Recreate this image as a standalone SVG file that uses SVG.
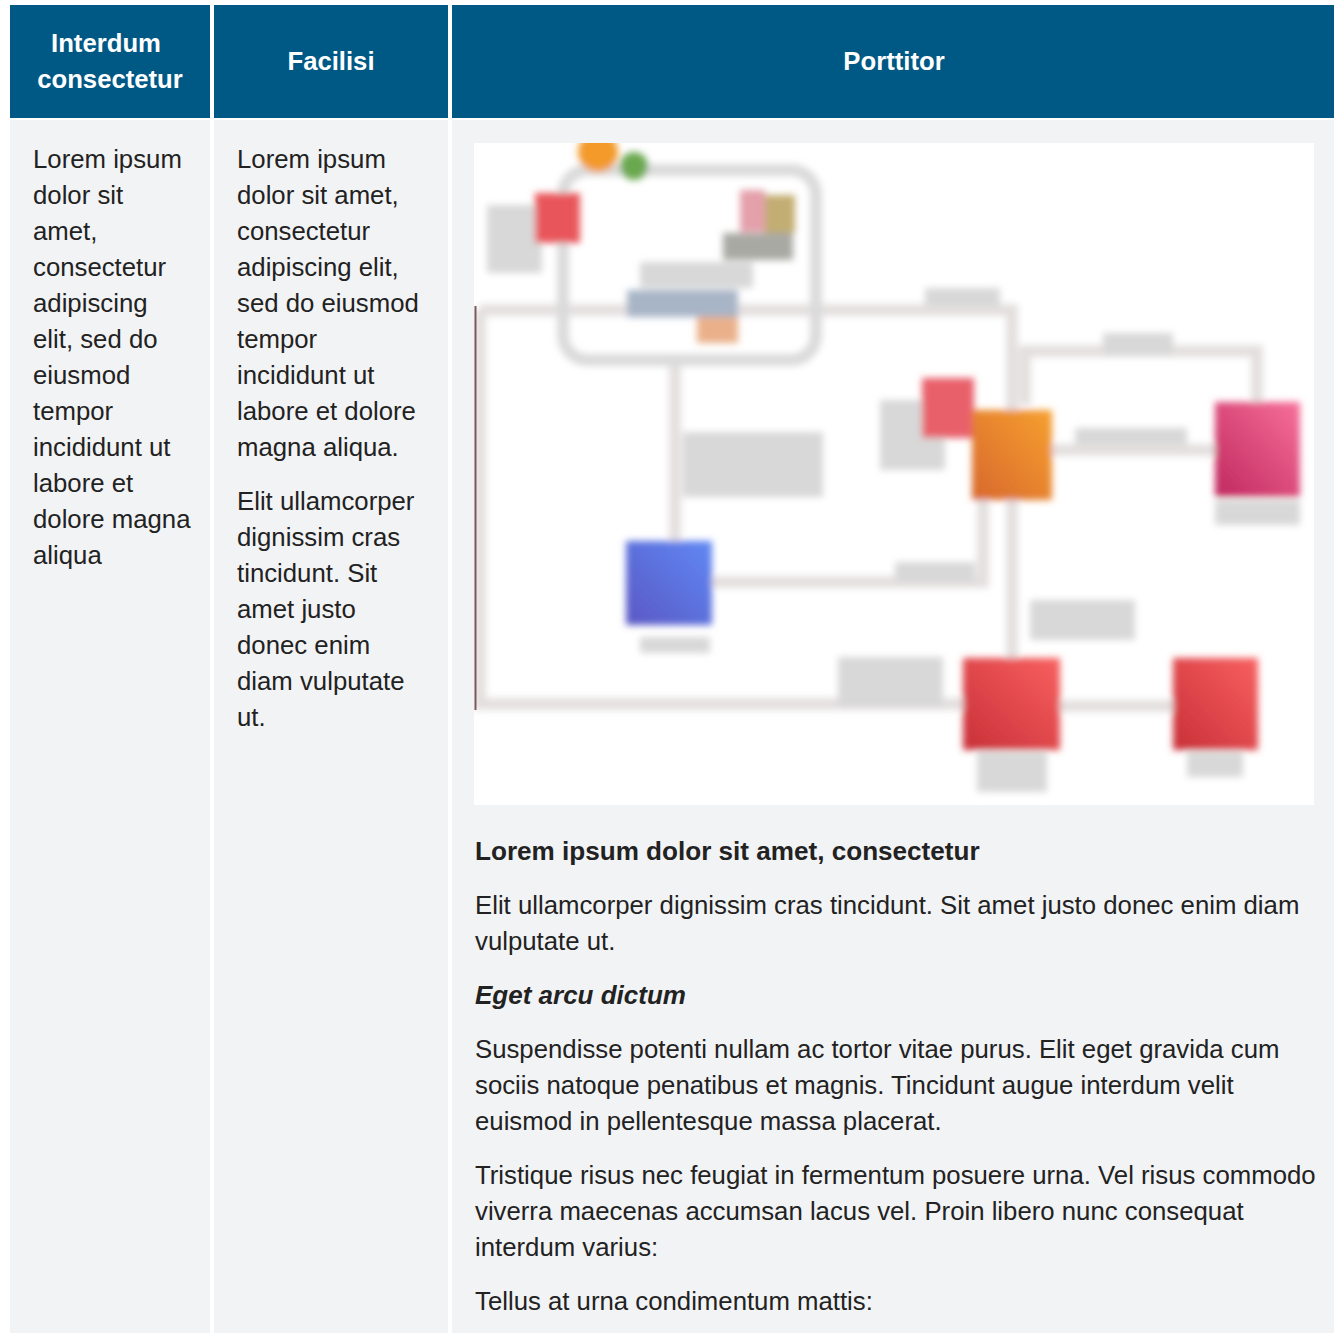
<svg xmlns="http://www.w3.org/2000/svg" width="1334" height="1334" viewBox="0 0 1334 1334">
<style>
.hd{fill:#005985}
.bd{fill:#f2f3f5}
.ht{font-family:"Liberation Sans",Arial,sans-serif;font-weight:bold;font-size:25.7px;fill:#fff;text-anchor:middle}
.t{font-family:"Liberation Sans",Arial,sans-serif;font-size:25.75px;fill:#222}
.b{font-weight:bold;font-size:26.1px}
.bi{font-weight:bold;font-style:italic;font-size:26px}
.cn{fill:none;stroke:#e4dfdf;stroke-width:12}
.lb{fill:#d8d8d8}
</style>
<defs>
<filter id="blur" x="-5%" y="-5%" width="110%" height="110%"><feGaussianBlur stdDeviation="3.5"/></filter>
<clipPath id="imgclip"><rect x="474" y="143" width="840" height="662"/></clipPath>
<linearGradient id="gOr" x1="0" y1="1" x2="1" y2="0"><stop offset="0" stop-color="#d8682c"/><stop offset="1" stop-color="#f6a030"/></linearGradient>
<linearGradient id="gPk" x1="0" y1="1" x2="1" y2="0"><stop offset="0" stop-color="#c0285e"/><stop offset="1" stop-color="#f7709a"/></linearGradient>
<linearGradient id="gBl" x1="0" y1="1" x2="1" y2="0"><stop offset="0" stop-color="#5a58c4"/><stop offset="1" stop-color="#5f88f4"/></linearGradient>
<linearGradient id="gRd" x1="0" y1="1" x2="1" y2="0"><stop offset="0" stop-color="#c83038"/><stop offset="1" stop-color="#f86060"/></linearGradient>
</defs>
<rect width="1334" height="1334" fill="#fff"/>

<g id="header">
<rect class="hd" x="10" y="5" width="200" height="113"/>
<rect class="hd" x="214" y="5" width="234" height="113"/>
<rect class="hd" x="452" y="5" width="882" height="113"/>
<text class="ht" x="106" y="52">Interdum</text>
<text class="ht" x="110" y="88">consectetur</text>
<text class="ht" x="331" y="70">Facilisi</text>
<text class="ht" x="894" y="70">Porttitor</text>
</g>

<g id="body-bg">
<rect class="bd" x="10" y="120" width="200" height="1213"/>
<rect class="bd" x="214" y="120" width="234" height="1213"/>
<rect class="bd" x="452" y="120" width="882" height="1213"/>
</g>

<g id="col1" class="t">
<text x="33" y="168">Lorem ipsum</text>
<text x="33" y="204">dolor sit</text>
<text x="33" y="240">amet,</text>
<text x="33" y="276">consectetur</text>
<text x="33" y="312">adipiscing</text>
<text x="33" y="348">elit, sed do</text>
<text x="33" y="384">eiusmod</text>
<text x="33" y="420">tempor</text>
<text x="33" y="456">incididunt ut</text>
<text x="33" y="492">labore et</text>
<text x="33" y="528">dolore magna</text>
<text x="33" y="564">aliqua</text>
</g>

<g id="col2" class="t">
<text x="237" y="168">Lorem ipsum</text>
<text x="237" y="204">dolor sit amet,</text>
<text x="237" y="240">consectetur</text>
<text x="237" y="276">adipiscing elit,</text>
<text x="237" y="312">sed do eiusmod</text>
<text x="237" y="348">tempor</text>
<text x="237" y="384">incididunt ut</text>
<text x="237" y="420">labore et dolore</text>
<text x="237" y="456">magna aliqua.</text>
<text x="237" y="510">Elit ullamcorper</text>
<text x="237" y="546">dignissim cras</text>
<text x="237" y="582">tincidunt. Sit</text>
<text x="237" y="618">amet justo</text>
<text x="237" y="654">donec enim</text>
<text x="237" y="690">diam vulputate</text>
<text x="237" y="726">ut.</text>
</g>

<g id="picture">
<rect x="474" y="143" width="840" height="662" fill="#fff"/>
<g clip-path="url(#imgclip)">
<g filter="url(#blur)">
<g id="connectors">
<path class="cn" d="M480,310 H1012 V412"/>
<path class="cn" d="M1025,405 V351 H1257 V402"/>
<path class="cn" d="M480,310 V704 H963"/>
<path class="cn" d="M675,365 V541"/>
<path class="cn" d="M712,582 H983 V498"/>
<path class="cn" d="M1012,498 V658"/>
<path class="cn" d="M1052,450 H1215"/>
<path class="cn" d="M1060,706 H1173"/>
</g>
<rect id="container" x="563" y="170" width="253" height="190" rx="25" fill="none" stroke="#dadada" stroke-width="12"/>
<g id="labels">
<rect class="lb" x="487" y="205" width="55" height="68" fill="#dcdcdc"/>
<rect class="lb" x="640" y="262" width="113" height="26"/>
<rect x="723" y="233" width="70" height="27" fill="#a9a9a4"/>
<rect x="627" y="290" width="111" height="27" fill="#a8b5c7"/>
<rect class="lb" x="925" y="288" width="75" height="18"/>
<rect class="lb" x="1103" y="333" width="70" height="22" fill="#d2d0d0"/>
<rect class="lb" x="683" y="432" width="140" height="65"/>
<rect class="lb" x="880" y="400" width="65" height="70"/>
<rect class="lb" x="1075" y="428" width="112" height="16"/>
<rect class="lb" x="1215" y="500" width="85" height="25" fill="#e0e0e0"/>
<rect class="lb" x="640" y="637" width="70" height="16" fill="#e0e0e0"/>
<rect class="lb" x="895" y="562" width="80" height="20"/>
<rect class="lb" x="1030" y="600" width="105" height="40"/>
<rect class="lb" x="838" y="657" width="105" height="50"/>
<rect class="lb" x="977" y="752" width="70" height="40"/>
<rect class="lb" x="1187" y="752" width="56" height="25"/>
</g>
<g id="icons">
<circle cx="598" cy="152" r="20" fill="#f39a2b"/>
<circle cx="634" cy="166" r="14" fill="#6aa84f"/>
<rect x="535" y="193" width="45" height="50" fill="#e8565c"/>
<rect x="740" y="190" width="25" height="42" fill="#e4a0ab"/>
<rect x="765" y="195" width="30" height="38" fill="#c2ad72"/>
<rect x="697" y="317" width="41" height="26" fill="#eab08a"/>
<rect x="922" y="378" width="52" height="60" fill="#e8606a"/>
</g>
<rect id="n-orange" x="972" y="410" width="80" height="90" fill="url(#gOr)"/>
<rect id="n-pink" x="1215" y="402" width="85" height="95" fill="url(#gPk)"/>
<rect id="n-blue" x="626" y="541" width="86" height="84" fill="url(#gBl)"/>
<rect id="n-red1" x="963" y="658" width="97" height="92" fill="url(#gRd)"/>
<rect id="n-red2" x="1173" y="658" width="85" height="92" fill="url(#gRd)"/>
</g>
</g>
<line x1="475.5" y1="306" x2="475.5" y2="710" stroke="#7a5a5a" stroke-width="2"/>
</g>

<g id="col3" class="t">
<text class="b" x="475" y="860">Lorem ipsum dolor sit amet, consectetur</text>
<text x="475" y="914">Elit ullamcorper dignissim cras tincidunt. Sit amet justo donec enim diam</text>
<text x="475" y="950">vulputate ut.</text>
<text class="bi" x="475" y="1004">Eget arcu dictum</text>
<text x="475" y="1058">Suspendisse potenti nullam ac tortor vitae purus. Elit eget gravida cum</text>
<text x="475" y="1094">sociis natoque penatibus et magnis. Tincidunt augue interdum velit</text>
<text x="475" y="1130">euismod in pellentesque massa placerat.</text>
<text x="475" y="1184">Tristique risus nec feugiat in fermentum posuere urna. Vel risus commodo</text>
<text x="475" y="1220">viverra maecenas accumsan lacus vel. Proin libero nunc consequat</text>
<text x="475" y="1256">interdum varius:</text>
<text x="475" y="1310">Tellus at urna condimentum mattis:</text>
</g>
</svg>
